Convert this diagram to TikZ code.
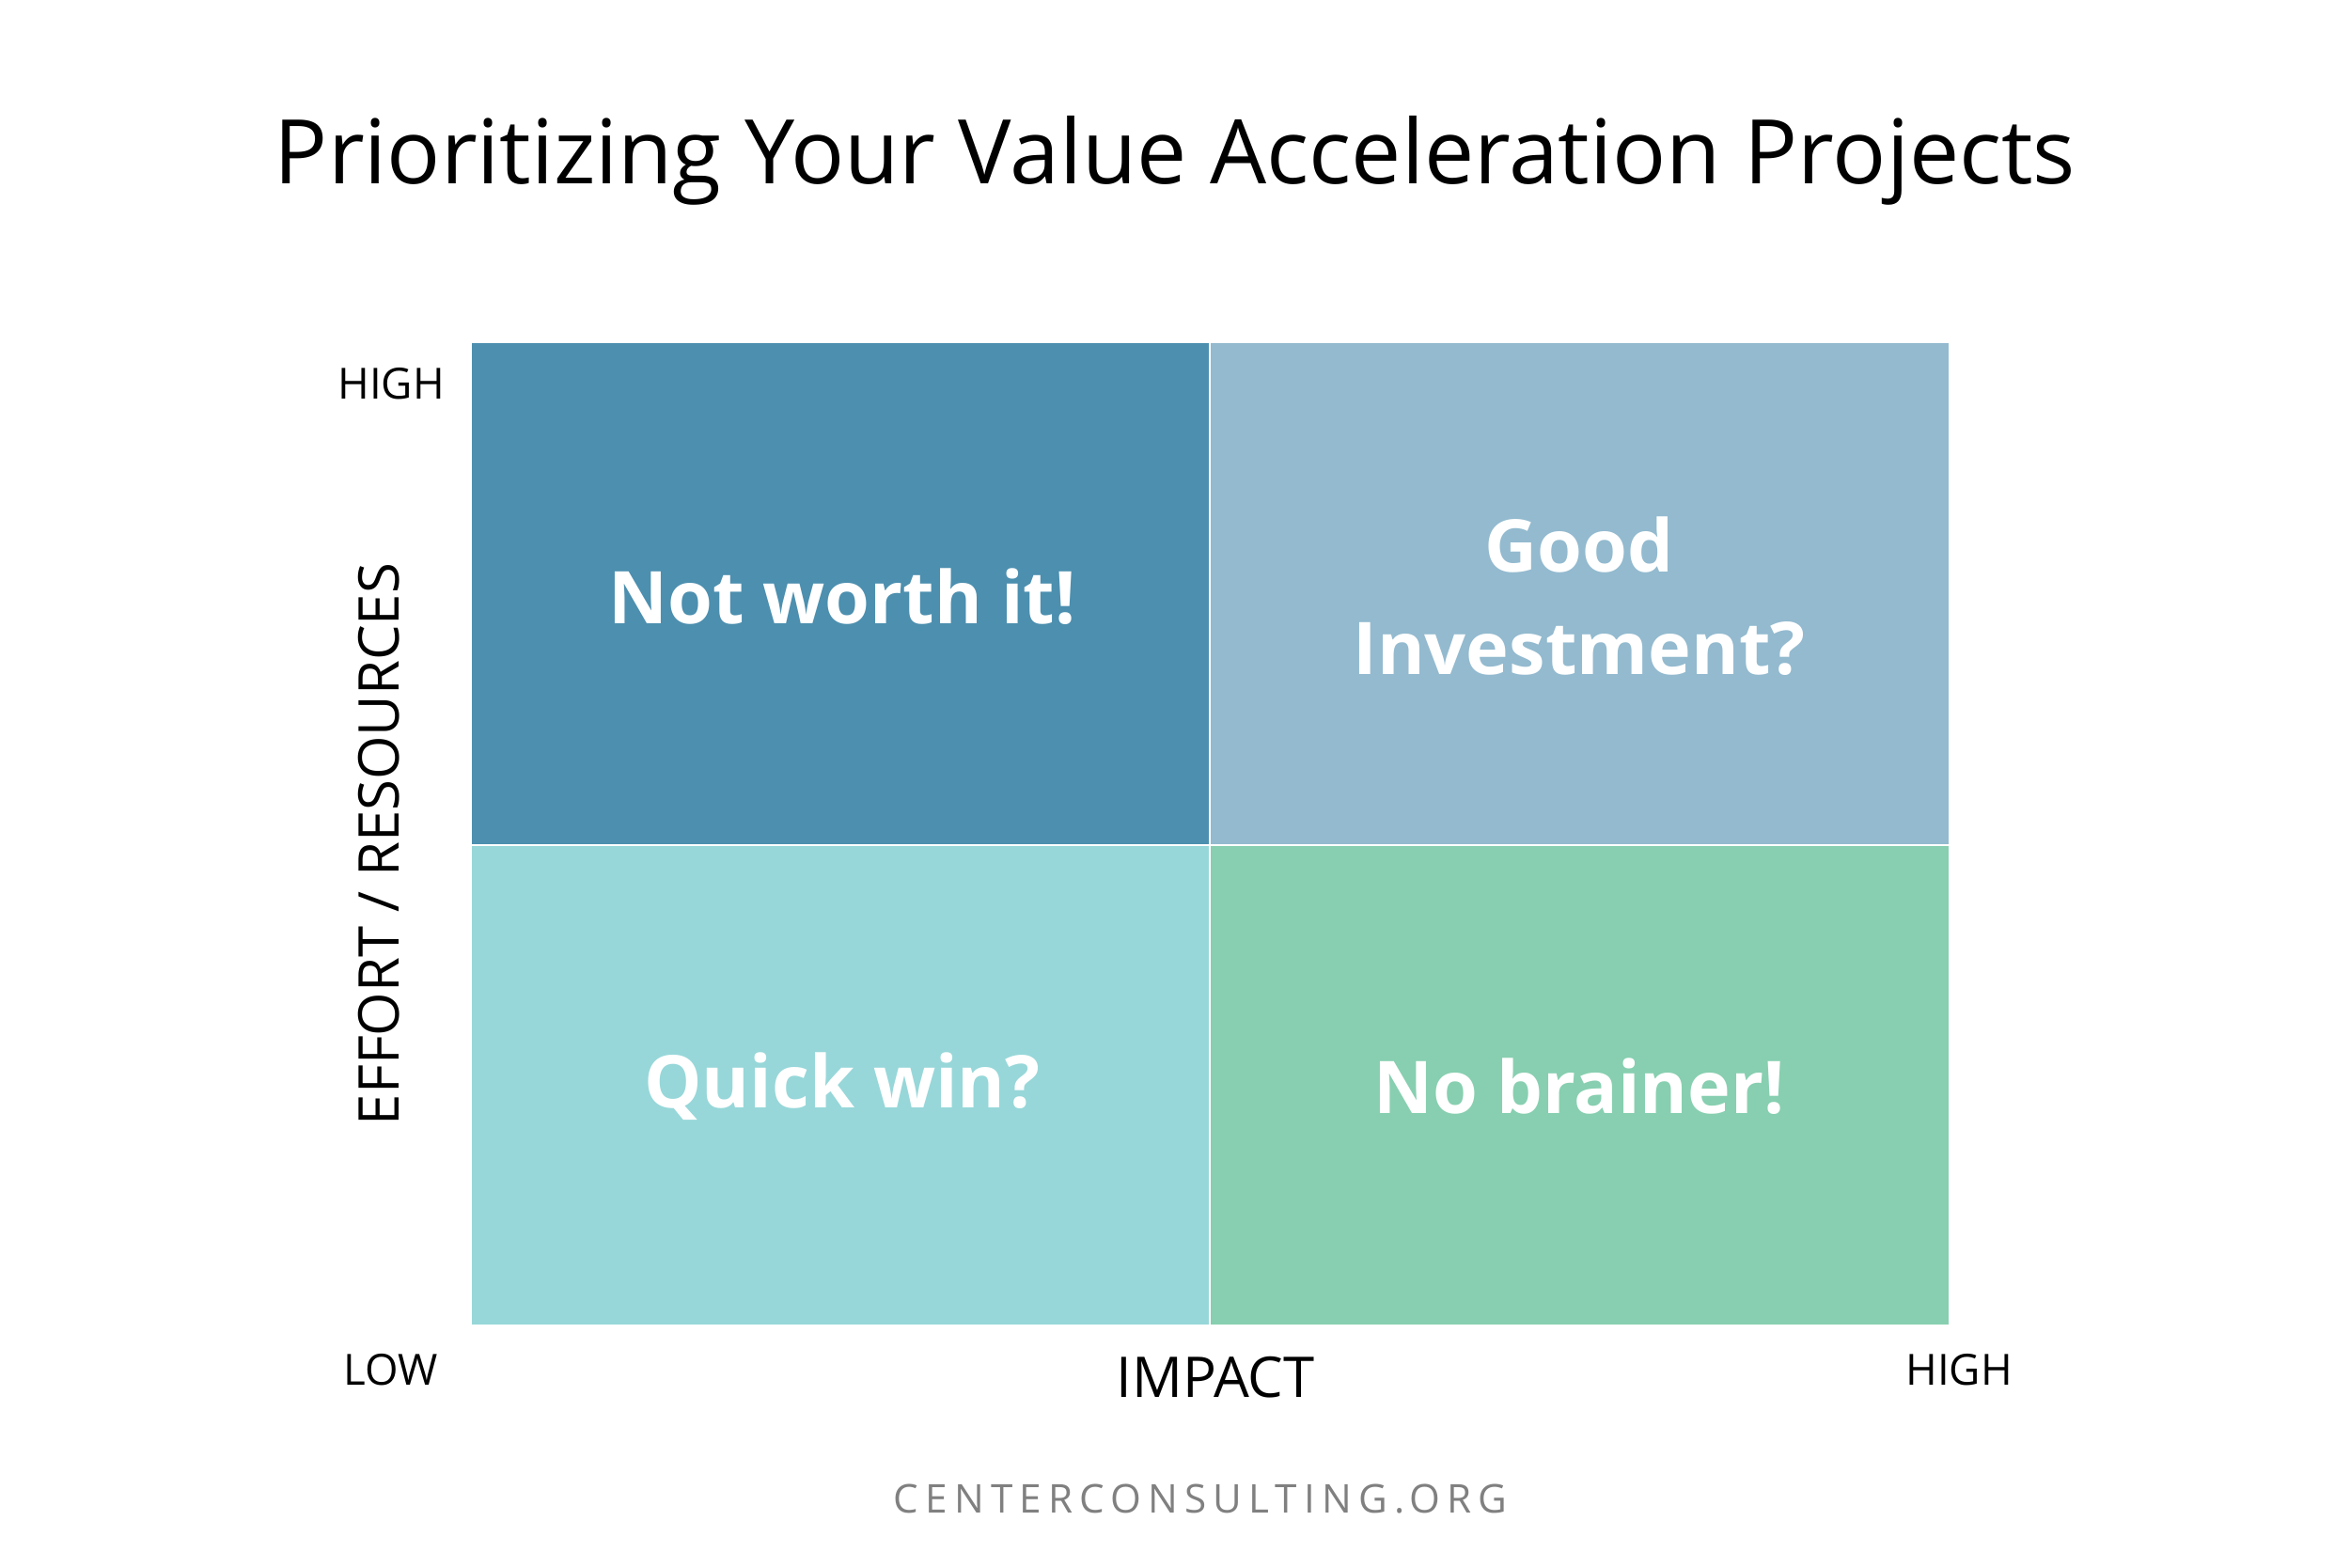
\documentclass[tikz,border=0pt]{standalone}
\usepackage{fontspec}
\setmainfont{Open Sans}
\usepackage{xcolor}
\definecolor{DeepTeal}{HTML}{4C8FAF}
\definecolor{PaleBlue}{HTML}{93BACF}
\definecolor{PaleAqua}{HTML}{97D7D9}
\definecolor{MintGreen}{HTML}{87CFB0}
\definecolor{FootGray}{HTML}{808080}

\begin{document}
\begin{tikzpicture}[every node/.append style={inner sep=0pt,outer sep=0pt},
      label/.style={font=\fontsize{22}{31}\selectfont\bfseries,color=white,align=center},
      axis/.style={font=\fontsize{13}{16}\selectfont,color=black}]
    \tikzstyle{bigaxis} = [font=\fontsize{17}{20}\selectfont,color=black]
    \useasboundingbox (0,0) rectangle (25,16.67);
    \fill[white] (0,0) rectangle (25,16.67);
    % quadrants
    \fill[DeepTeal]  (5.02,7.68) rectangle (12.87,13.02);
    \fill[PaleBlue]  (12.87,7.68) rectangle (20.73,13.02);
    \fill[PaleAqua]  (5.02,2.58) rectangle (12.87,7.68);
    \fill[MintGreen] (12.87,2.58) rectangle (20.73,7.68);
    \coordinate (top) at (12.87,13.02);
    \coordinate (bot) at (12.87,2.58);
    \coordinate (lft) at (5.02,7.68);
    \coordinate (rgt) at (20.73,7.68);
    \draw[white, line width=0.6pt] (top) -- (bot);
    \draw[white, line width=0.6pt] (lft) -- (rgt);
    \node (title) [font=\fontsize{27}{32}\selectfont] at (12.5,14.96) {Prioritizing Your Value Acceleration Projects};
    \node (notworth) [label] at (8.96,10.32) {Not worth it!};
    \node (goodinv) [label] at (16.80,10.33) {Good\\Investment?};
    \node (quickwin) [label] at (8.96,5.11) {Quick win?};
    \node (nobrainer) [label] at (16.80,5.11) {No brainer!};
    \node (yhigh) [axis] at (4.16,12.59) {HIGH};
    \node (xlow) [axis] at (4.16,2.10) {LOW};
    \node (xhigh) [axis] at (20.84,2.10) {HIGH};
    \node (impact) [bigaxis] at (12.93,2.02) {IMPACT};
    \node (effort) [bigaxis, rotate=90] at (4.03,7.69) {EFFORT / RESOURCES};
    \node (footer) [font=\fontsize{12}{14}\selectfont\addfontfeature{LetterSpace=17}, color=FootGray] at (12.77,0.73) {CENTERCONSULTING.ORG};
\end{tikzpicture}
\end{document}
